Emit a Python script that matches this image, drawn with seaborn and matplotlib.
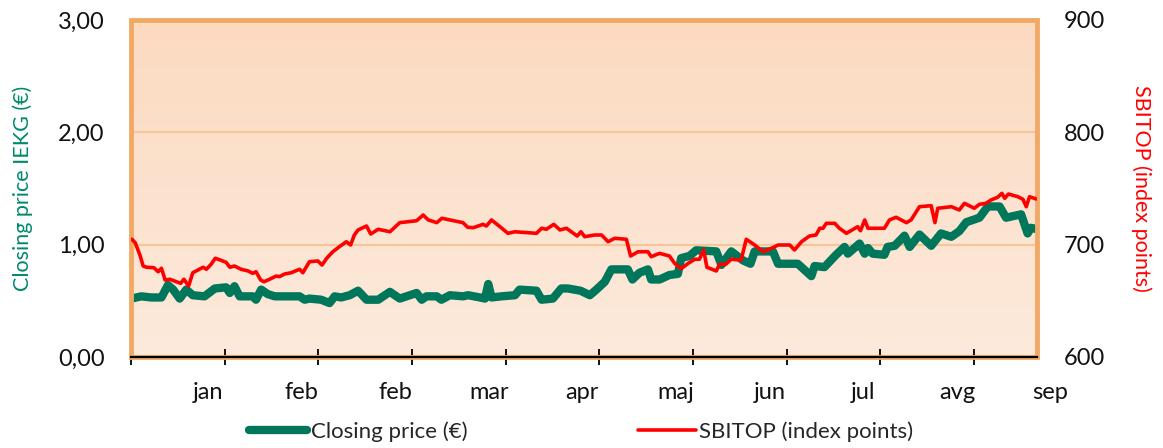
import matplotlib
matplotlib.use("Agg")
import matplotlib.pyplot as plt
import matplotlib.transforms as mtransforms
from matplotlib.patches import Rectangle
from matplotlib.lines import Line2D
import numpy as np
import pandas as pd
import seaborn as sns

# trading day (20 days per month tick) and values
green_day = [0.1, 2.2, 4.3, 6.5, 7.9, 9.0, 10.4, 11.8, 13.2, 15.7, 17.9, 20.3, 21.1, 22.1,
             23.2, 26.0, 26.7, 27.8, 29.2, 30.7, 36.0, 37.1, 38.1, 40.6, 42.4, 43.5, 44.9,
             46.7, 48.5, 50.3, 52.8, 55.3, 57.4, 61.0, 62.1, 63.1, 65.3, 66.3, 68.1, 70.9,
             72.0, 74.5, 75.6, 76.3, 77.0, 79.1, 82.0, 83.0, 86.6, 87.7, 90.1, 91.9, 93.3,
             96.0, 98.0, 99.4, 101.2, 102.6, 106.1, 107.1, 108.6, 110.4, 111.1, 112.9, 115.0,
             116.8, 117.5, 119.3, 120.7, 125.0, 126.1, 128.2, 130.7, 132.3, 133.2, 137.1,
             138.2, 142.4, 145.3, 146.0, 148.1, 150.6, 152.4, 153.1, 155.6, 156.7, 157.4,
             158.4, 160.9, 161.6, 163.1, 165.2, 166.3, 168.4, 170.9, 173.0, 175.2, 176.9,
             178.4, 181.2, 183.0, 185.5, 186.9, 190.1, 191.5, 192.2, 193.3]
green_price = [0.52, 0.54, 0.53, 0.53, 0.64, 0.60, 0.52, 0.60, 0.55, 0.54, 0.61, 0.62, 0.57,
               0.63, 0.54, 0.54, 0.51, 0.60, 0.56, 0.54, 0.54, 0.51, 0.52, 0.51, 0.48, 0.54,
               0.53, 0.55, 0.59, 0.51, 0.51, 0.58, 0.52, 0.57, 0.51, 0.54, 0.54, 0.51, 0.55,
               0.54, 0.55, 0.53, 0.52, 0.65, 0.53, 0.54, 0.55, 0.60, 0.59, 0.51, 0.52, 0.61,
               0.61, 0.59, 0.55, 0.60, 0.67, 0.78, 0.78, 0.69, 0.75, 0.78, 0.69, 0.69, 0.73,
               0.74, 0.88, 0.90, 0.95, 0.94, 0.82, 0.94, 0.86, 0.83, 0.94, 0.94, 0.83, 0.83,
               0.72, 0.81, 0.80, 0.91, 0.98, 0.92, 1.01, 0.92, 0.97, 0.92, 0.91, 0.98, 0.99,
               1.08, 0.98, 1.09, 0.99, 1.10, 1.07, 1.12, 1.20, 1.24, 1.34, 1.34, 1.24, 1.27,
               1.10, 1.15, 1.14]

red_day = [0.2, 0.9, 1.9, 2.6, 3.3, 4.9, 5.8, 6.5, 7.3, 8.3, 9.7, 10.6, 11.3, 12.3, 13.2,
           14.3, 15.4, 16.1, 17.1, 18.0, 19.1, 20.3, 21.1, 22.1, 23.5, 25.0, 26.0, 26.7,
           27.7, 28.4, 29.6, 31.0, 31.7, 32.8, 34.2, 36.0, 36.7, 38.1, 39.9, 40.8, 41.8,
           43.1, 44.5, 46.0, 46.9, 47.7, 48.5, 50.3, 51.2, 52.8, 55.3, 57.4, 61.0, 62.4,
           63.5, 65.3, 66.4, 68.1, 70.9, 71.9, 73.1, 75.2, 75.9, 77.0, 78.8, 80.5, 82.0,
           86.6, 87.7, 88.7, 90.3, 91.6, 93.0, 95.3, 96.1, 96.9, 99.0, 100.5, 101.9, 103.3,
           105.8, 106.7, 108.3, 110.4, 111.1, 112.9, 115.0, 116.1, 117.5, 119.0, 120.4,
           121.4, 122.3, 123.0, 125.0, 125.7, 127.0, 128.2, 130.3, 131.4, 133.2, 135.0,
           136.8, 138.2, 140.7, 141.7, 143.2, 144.9, 146.3, 147.1, 147.8, 148.5, 150.3,
           151.3, 152.8, 155.2, 155.8, 156.7, 157.4, 160.9, 162.0, 163.4, 165.6, 166.6,
           168.4, 170.9, 171.7, 172.3, 175.2, 176.9, 178.0, 180.1, 181.2, 182.6, 183.7,
           185.1, 186.0, 186.6, 187.4, 189.4, 190.5, 191.2, 191.9, 193.3]
red_index = [704.8, 701.7, 690.8, 681.0, 679.9, 679.5, 675.9, 679.0, 668.5, 669.2, 667.0,
             665.6, 669.2, 663.2, 675.0, 677.4, 679.9, 678.1, 682.5, 687.9, 686.3, 684.3,
             679.9, 681.0, 678.1, 676.6, 674.5, 675.9, 668.5, 667.0, 669.2, 672.1, 671.5,
             673.9, 675.0, 678.1, 675.0, 684.8, 685.5, 681.9, 687.9, 693.7, 698.2, 702.6,
             699.7, 708.6, 713.1, 716.6, 709.5, 713.7, 711.5, 719.6, 721.3, 726.4, 722.0,
             719.6, 723.5, 722.0, 719.6, 715.5, 715.1, 718.1, 716.6, 722.0, 716.0, 710.1,
             711.5, 710.1, 714.6, 713.7, 718.1, 713.1, 714.6, 707.7, 711.5, 707.1, 708.6,
             708.6, 702.6, 705.7, 704.8, 689.9, 693.7, 693.7, 689.3, 692.3, 689.9, 683.4,
             678.6, 683.4, 687.0, 687.0, 695.3, 679.9, 676.6, 682.5, 682.5, 687.0, 686.3,
             704.8, 699.7, 693.7, 696.8, 699.7, 699.7, 695.3, 702.6, 707.7, 708.6, 714.6,
             714.6, 719.0, 719.0, 714.6, 710.1, 716.0, 712.4, 722.0, 714.6, 714.6, 722.0,
             724.4, 719.6, 722.0, 733.8, 734.7, 719.6, 732.4, 733.8, 730.9, 736.8, 732.4,
             735.9, 736.8, 739.8, 742.2, 745.7, 741.3, 745.1, 742.7, 740.4, 733.8, 742.7,
             740.7]

month_labels = ["jan", "feb", "feb", "mar", "apr", "maj", "jun", "jul", "avg", "sep"]
left_ticks = [0, 1, 2, 3]
left_labels = ["0,00", "1,00", "2,00", "3,00"]
right_ticks = [600, 700, 800, 900]

green_df = pd.DataFrame({"day": green_day, "price": green_price})
red_df = pd.DataFrame({"day": red_day, "index": red_index})

sns.set_theme(style="white")
plt.rcParams["font.family"] = ["Lato", "DejaVu Sans"]

GREEN = "#00765A"
RED = "#FF0000"
FRAME = "#F2A966"
GRID = "#F7C597"

fig = plt.figure(figsize=(11.63, 4.48), dpi=100)
pos = [131 / 1163, 91 / 448, 906 / 1163, 337 / 448]

# gradient background of the plot area
bg = fig.add_axes(pos, zorder=-1)
grad = np.linspace(0, 1, 256).reshape(-1, 1)
cmap = matplotlib.colors.LinearSegmentedColormap.from_list("bg", ["#FBDAC0", "#FDEADC"])
bg.imshow(grad, aspect="auto", cmap=cmap, extent=[0, 1, 0, 1])
bg.axis("off")

ax = fig.add_axes(pos)
ax.set_facecolor("none")
sns.lineplot(data=green_df, x="day", y="price", ax=ax, color=GREEN, lw=6,
             estimator=None, sort=False, solid_joinstyle="round", solid_capstyle="round")
ax.set_xlim(0, 193.5)
ax.set_ylim(0, 3)
ax.set_yticks(left_ticks)
ax.set_yticklabels(left_labels)
ax.yaxis.grid(True, color=GRID, lw=1.5)
ax.set_axisbelow(True)
ax.set_xticks(np.arange(0, 181, 20))
ax.set_xticklabels([])
ax.tick_params(axis="x", direction="inout", length=12, width=1.3, color="black", bottom=True)
ax.tick_params(axis="y", length=0, pad=19, labelsize=17, labelcolor="#111111")
for s in ["left", "top", "right"]:
    ax.spines[s].set_visible(False)
ax.spines["bottom"].set_color("black")
ax.spines["bottom"].set_linewidth(1.6)
ax.spines["bottom"].set_zorder(5)
ax.add_patch(Rectangle((0, 0), 1, 1, transform=ax.transAxes, fill=False, ec=FRAME,
                       lw=3.5, clip_on=False, zorder=4))
ax.set_xlabel("")
ax.set_ylabel("Closing price IEKG (€)", color="#00896B", fontsize=15.5)
ax.yaxis.set_label_coords(-0.108, 0.5)

trans = mtransforms.blended_transform_factory(ax.transData, ax.transAxes)
for i, lab in enumerate(month_labels):
    ax.text(20 * (i + 1) - 3.6, -0.105, lab, transform=trans, ha="center", va="center",
            fontsize=17, color="#111111", clip_on=False)

ax2 = ax.twinx()
sns.lineplot(data=red_df, x="day", y="index", ax=ax2, color=RED, lw=2.6,
             estimator=None, sort=False)
ax2.set_ylim(600, 900)
ax2.set_yticks(right_ticks)
ax2.tick_params(axis="y", length=0, pad=19, labelsize=17, labelcolor="#111111")
for s in ax2.spines.values():
    s.set_visible(False)
ax2.set_ylabel("SBITOP (index points)", color=RED, fontsize=15.5, rotation=270)
ax2.yaxis.set_label_coords(1.126, 0.5)
ax2.set_xlim(0, 193.5)

handles = [Line2D([], [], color=GREEN, lw=6, solid_capstyle="round"),
           Line2D([], [], color=RED, lw=2.6)]
fig.legend(handles, ["Closing price (€)", "SBITOP (index points)"], loc="center",
           bbox_to_anchor=(0.5, 0.036), ncol=2, frameon=False, fontsize=16,
           handlelength=2.6, handletextpad=0.15, columnspacing=7.7)

fig.savefig("out.png", dpi=100)
